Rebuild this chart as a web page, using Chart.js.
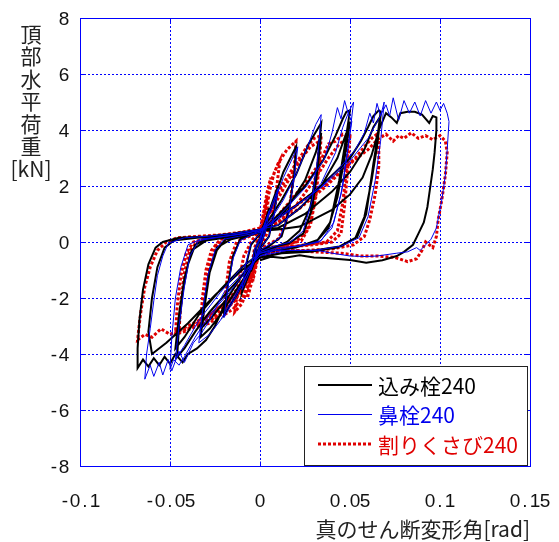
<!DOCTYPE html>
<html>
<head>
<meta charset="utf-8">
<script src="https://cdn.jsdelivr.net/npm/chart.js@4.4.1/dist/chart.umd.min.js"></script>
<style>
  html, body { margin: 0; padding: 0; background: #fff; }
  #wrap { width: 559px; height: 542px; }
</style>
</head>
<body>
<div id="wrap"><canvas id="loopChart" width="559" height="542"></canvas></div>
<script>
// 軸の目盛
const xTicks = [-0.1, -0.05, 0, 0.05, 0.1, 0.15];
const yTicks = [-8, -6, -4, -2, 0, 2, 4, 6, 8];
const yTitleLines = ["頂", "部", "水", "平", "荷", "重", "[kN]"];
const xTitle = "真のせん断変形角[rad]";

const seriesNames = ["込み栓240", "鼻栓240", "割りくさび240"];

// 込み栓240  [変形角, 荷重]
const komiPath = [
  [0,0],[0.0033,0.8],[0.002,0.3],[0,-0.1],[-0.0033,-0.7],[-0.002,-0.2],[0,0.1],
  [0.005,1.2],[0.003,0.4],[0,-0.15],[-0.005,-1.05],[-0.003,-0.3],[0,0.15],
  [0.004,0.9],[0.01,2.0],[0.008,1.1],[0.005,0.2],[0,-0.25],[-0.004,-0.8],[-0.01,-1.8],[-0.008,-0.9],[-0.005,-0.1],[0,0.3],
  [0.006,1.2],[0.013,2.5],[0.02,3.4],[0.019,2.4],[0.016,1.1],[0.012,0.2],[0.005,-0.15],[0,-0.3],
  [-0.006,-1.0],[-0.013,-1.9],[-0.02,-2.6],[-0.018,-1.6],[-0.015,-0.5],[-0.011,0.1],[-0.005,0.25],[0,0.35],
  [0.005,0.8],[0.012,1.5],[0.02,2.4],[0.027,3.5],[0.034,4.25],[0.032,2.8],[0.028,1.25],[0.022,0.4],[0.015,0],[0.008,-0.2],[0,-0.4],
  [-0.006,-1.0],[-0.013,-1.7],[-0.022,-2.6],[-0.028,-3.1],[-0.033,-3.4],[-0.031,-2.4],[-0.028,-1.1],[-0.024,-0.3],[-0.019,0.1],[-0.012,0.2],[-0.004,0.3],[0,0.4],
  [0.006,0.6],[0.015,1.2],[0.025,2.2],[0.031,3.2],[0.034,3.9],[0.032,2.6],[0.029,1.2],[0.024,0.3],[0.016,-0.05],[0.006,-0.2],[0,-0.35],
  [-0.008,-1.0],[-0.018,-2.0],[-0.027,-2.7],[-0.033,-3.1],[-0.031,-2.2],[-0.028,-1.0],[-0.024,-0.2],[-0.016,0.1],[-0.006,0.25],[0,0.35],
  [0.006,0.7],[0.015,1.3],[0.025,2.0],[0.035,2.9],[0.042,3.8],[0.046,4.4],[0.048,4.65],[0.05,4.7],[0.047,3.4],[0.044,2.2],[0.039,0.7],[0.032,0.07],[0.02,-0.2],[0.008,-0.3],[0,-0.45],
  [-0.007,-1.0],[-0.017,-1.7],[-0.028,-2.5],[-0.036,-3.2],[-0.042,-3.8],[-0.046,-4.1],[-0.045,-3.0],[-0.043,-1.8],[-0.04,-0.8],[-0.036,-0.1],[-0.03,0.1],[-0.02,0.2],[-0.008,0.3],[0,0.45],
  [0.01,0.6],[0.022,1.2],[0.034,2.0],[0.043,3.0],[0.048,3.9],[0.05,4.3],[0.047,3.0],[0.043,1.6],[0.038,0.5],[0.031,0],[0.018,-0.2],[0,-0.4],
  [-0.01,-0.9],[-0.022,-1.7],[-0.034,-2.6],[-0.042,-3.4],[-0.047,-3.8],[-0.045,-2.6],[-0.042,-1.3],[-0.038,-0.3],[-0.03,0.05],[-0.015,0.2],[0,0.4],
  [0.008,0.8],[0.02,1.3],[0.032,1.9],[0.042,2.5],[0.05,3.0],[0.056,3.6],[0.06,4.1],[0.063,4.5],[0.066,4.7],[0.067,4.65],[0.065,3.6],[0.063,2.8],[0.059,1.0],[0.054,0.18],[0.045,-0.15],[0.03,-0.3],[0.015,-0.35],[0,-0.55],
  [-0.008,-1.0],[-0.018,-2.0],[-0.025,-3.0],[-0.03,-3.5],[-0.035,-3.8],[-0.04,-4.0],[-0.043,-4.3],[-0.047,-4.0],[-0.05,-4.35],[-0.053,-4.1],[-0.056,-4.4],[-0.059,-4.15],[-0.062,-4.45],[-0.065,-4.2],[-0.068,-4.5],
  [-0.068,-3.8],[-0.067,-2.8],[-0.065,-1.7],[-0.062,-0.8],[-0.058,-0.2],[-0.054,0],[-0.045,0.15],[-0.03,0.2],[-0.015,0.3],[0,0.45],
  [0.01,0.5],[0.025,1.0],[0.04,1.8],[0.05,2.5],[0.058,3.3],[0.063,4.1],[0.067,4.5],[0.065,3.4],[0.062,2.2],[0.058,0.9],[0.053,0.15],[0.043,-0.2],[0.028,-0.35],[0.012,-0.4],[0,-0.55],
  [-0.01,-1.0],[-0.025,-1.9],[-0.04,-2.9],[-0.052,-3.6],[-0.06,-4.0],[-0.062,-3.2],[-0.06,-2.0],[-0.057,-0.9],[-0.053,-0.2],[-0.048,0.05],[-0.035,0.15],[-0.02,0.2],[0,0.4],
  [0.01,0.45],[0.022,0.55],[0.04,1.15],[0.05,1.7],[0.057,2.3],[0.062,3.1],[0.066,4.0],[0.07,4.6],[0.073,4.45],[0.076,4.25],[0.078,4.6],[0.082,4.65],[0.086,4.65],[0.09,4.55],[0.094,4.25],[0.096,4.5],[0.098,4.45],
  [0.098,4.0],[0.097,3.2],[0.096,2.6],[0.094,1.7],[0.093,1.25],[0.091,0.7],[0.088,0.3],[0.085,-0.1],[0.08,-0.35],[0.076,-0.5],[0.068,-0.65],[0.059,-0.74],[0.05,-0.64],[0.037,-0.57],[0.03,-0.55],[0.022,-0.47],[0.013,-0.57],[0.006,-0.53],[0,-0.65]
];

// 鼻栓240
const hanaPath = [
  [0,0],[0.003,0.7],[0.002,0.25],[0,-0.1],[-0.003,-0.65],[-0.002,-0.2],[0,0.1],
  [0.005,1.1],[0.003,0.35],[0,-0.15],[-0.005,-1.0],[-0.003,-0.25],[0,0.15],
  [0.004,0.9],[0.01,1.9],[0.008,1.0],[0.005,0.2],[0,-0.25],[-0.004,-0.8],[-0.01,-1.7],[-0.008,-0.8],[-0.005,-0.05],[0,0.3],
  [0.006,1.1],[0.013,2.3],[0.021,3.4],[0.019,2.3],[0.016,1.0],[0.011,0.15],[0.005,-0.1],[0,-0.3],
  [-0.006,-1.0],[-0.013,-1.9],[-0.02,-2.7],[-0.018,-1.7],[-0.015,-0.6],[-0.011,0.05],[-0.005,0.25],[0,0.35],
  [0.006,0.8],[0.013,1.5],[0.02,2.4],[0.027,3.5],[0.031,4.2],[0.034,4.55],[0.032,3.0],[0.029,1.5],[0.024,0.4],[0.017,0],[0.008,-0.15],[0,-0.35],
  [-0.006,-1.0],[-0.013,-1.8],[-0.022,-2.8],[-0.028,-3.3],[-0.034,-3.6],[-0.032,-2.5],[-0.029,-1.2],[-0.025,-0.3],[-0.02,0.1],[-0.012,0.2],[-0.004,0.3],[0,0.4],
  [0.007,0.7],[0.016,1.3],[0.026,2.0],[0.036,3.0],[0.04,3.9],[0.043,4.8],[0.045,4.4],[0.047,5.05],[0.049,4.6],[0.052,5.0],[0.049,3.4],[0.046,2.0],[0.041,0.7],[0.034,0.05],[0.022,-0.15],[0.01,-0.2],[0,-0.4],
  [-0.007,-1.0],[-0.017,-1.8],[-0.028,-2.6],[-0.036,-3.4],[-0.042,-4.1],[-0.045,-4.4],[-0.048,-4.2],[-0.05,-4.55],[-0.049,-3.4],[-0.047,-2.0],[-0.044,-0.9],[-0.04,-0.1],[-0.033,0.1],[-0.02,0.2],[-0.008,0.3],[0,0.45],
  [0.01,0.6],[0.022,1.2],[0.034,2.1],[0.042,3.2],[0.046,4.1],[0.049,4.6],[0.051,4.3],[0.048,3.0],[0.045,1.7],[0.04,0.5],[0.033,0],[0.02,-0.15],[0,-0.4],
  [-0.01,-0.9],[-0.022,-1.8],[-0.034,-2.8],[-0.042,-3.7],[-0.047,-4.2],[-0.045,-3.0],[-0.042,-1.6],[-0.039,-0.5],[-0.034,0.05],[-0.02,0.2],[0,0.4],
  [0.008,0.8],[0.02,1.3],[0.033,1.9],[0.045,2.7],[0.053,3.3],[0.058,3.9],[0.061,4.6],[0.063,4.25],[0.065,4.95],[0.067,4.5],[0.069,5.0],[0.067,3.6],[0.064,2.2],[0.06,0.9],[0.055,0.15],[0.045,-0.15],[0.03,-0.3],[0.015,-0.3],[0,-0.5],
  [-0.008,-1.0],[-0.02,-1.8],[-0.028,-2.8],[-0.033,-3.3],[-0.037,-3.6],[-0.042,-4.3],[-0.045,-3.9],[-0.049,-4.6],[-0.051,-4.2],[-0.054,-4.75],[-0.056,-4.3],[-0.059,-4.8],[-0.061,-4.4],[-0.064,-4.9],
  [-0.063,-4.0],[-0.061,-3.1],[-0.059,-2.1],[-0.057,-1.2],[-0.054,-0.5],[-0.051,-0.05],[-0.042,0.15],[-0.03,0.2],[-0.015,0.3],[0,0.45],
  [0.008,0.7],[0.02,1.3],[0.035,2.0],[0.05,2.9],[0.06,3.7],[0.066,4.4],[0.07,4.9],[0.072,4.5],[0.074,5.15],[0.077,4.35],[0.08,5.05],[0.083,4.6],[0.086,5.0],[0.089,4.5],[0.092,5.05],[0.095,4.6],[0.098,5.0],[0.1,4.7],[0.102,4.95],[0.104,4.6],[0.105,4.3],
  [0.104,3.3],[0.103,2.4],[0.101,1.5],[0.098,0.5],[0.095,0.1],[0.092,-0.1],[0.089,-0.3],[0.087,-0.2],[0.082,-0.35],[0.076,-0.4],[0.065,-0.5],[0.059,-0.52],[0.05,-0.5],[0.04,-0.4],[0.032,-0.3],[0.02,-0.3],[0.008,-0.3],[0,-0.5]
];

// 割りくさび240
const wariPath = [
  [0,0],[0.002,0.9],[0.004,1.6],[0.003,0.8],[0.001,0],[-0.002,-0.8],[-0.004,-1.4],[-0.003,-0.6],[-0.001,0.1],[0.001,0.7],
  [0.004,1.8],[0.006,2.3],[0.004,1.2],[0.002,0.3],[0,-0.2],[-0.004,-1.3],[-0.007,-2.0],[-0.005,-1.0],[-0.003,-0.2],[0,0.3],
  [0.004,1.5],[0.008,2.5],[0.011,2.9],[0.009,1.8],[0.006,0.7],[0.002,0],[-0.002,-0.6],[-0.006,-1.5],[-0.01,-2.2],[-0.014,-2.5],[-0.012,-1.5],[-0.009,-0.5],[-0.004,0.1],[0,0.4],
  [0.005,2.0],[0.01,2.8],[0.015,3.3],[0.02,3.6],[0.019,2.6],[0.017,1.5],[0.014,0.6],[0.01,0.1],[0.004,-0.1],[0,-0.3],
  [-0.005,-1.3],[-0.01,-2.0],[-0.015,-2.4],[-0.02,-2.6],[-0.019,-1.7],[-0.017,-0.7],[-0.013,0],[-0.006,0.2],[0,0.4],
  [0.006,1.2],[0.012,2.0],[0.02,2.8],[0.026,3.4],[0.03,3.7],[0.034,3.8],[0.033,2.8],[0.031,1.6],[0.028,0.6],[0.023,0.05],[0.012,-0.15],[0.003,-0.2],[0,-0.4],
  [-0.006,-1.3],[-0.014,-2.1],[-0.022,-2.6],[-0.028,-2.9],[-0.033,-3.0],[-0.032,-2.0],[-0.03,-1.0],[-0.027,-0.3],[-0.022,0.1],[-0.012,0.2],[-0.004,0.3],[0,0.45],
  [0.006,1.1],[0.014,2.0],[0.022,2.9],[0.028,3.4],[0.033,3.6],[0.032,2.6],[0.03,1.4],[0.026,0.4],[0.02,0],[0.01,-0.15],[0,-0.35],
  [-0.007,-1.4],[-0.016,-2.2],[-0.025,-2.7],[-0.032,-2.9],[-0.031,-1.9],[-0.028,-0.8],[-0.024,-0.1],[-0.015,0.2],[0,0.4],
  [0.008,0.8],[0.016,1.4],[0.025,2.1],[0.033,2.8],[0.038,3.5],[0.042,3.6],[0.046,3.85],[0.05,3.8],[0.049,2.8],[0.047,1.3],[0.045,0.3],[0.04,0],[0.03,-0.1],[0.02,-0.15],[0.008,-0.2],[0,-0.4],
  [-0.006,-1.2],[-0.015,-2.0],[-0.025,-2.6],[-0.035,-3.0],[-0.042,-3.2],[-0.047,-3.3],[-0.046,-2.3],[-0.044,-1.2],[-0.041,-0.4],[-0.037,0],[-0.028,0.15],[-0.015,0.25],[-0.005,0.3],[0,0.45],
  [0.01,0.7],[0.02,1.3],[0.03,2.2],[0.038,3.0],[0.044,3.5],[0.049,3.7],[0.048,2.6],[0.046,1.4],[0.043,0.4],[0.037,0],[0.025,-0.1],[0,-0.35],
  [-0.008,-1.3],[-0.018,-2.1],[-0.03,-2.7],[-0.04,-3.1],[-0.045,-3.2],[-0.044,-2.2],[-0.042,-1.1],[-0.039,-0.3],[-0.034,0.05],[-0.02,0.2],[0,0.4],
  [0.01,0.7],[0.022,1.2],[0.035,1.9],[0.045,2.5],[0.053,3.0],[0.058,3.4],[0.062,3.7],[0.065,3.85],[0.066,3.6],[0.066,2.7],[0.064,1.7],[0.061,0.8],[0.058,0.2],[0.052,-0.1],[0.04,-0.25],[0.025,-0.3],[0.01,-0.3],[0,-0.5],
  [-0.007,-1.3],[-0.016,-2.0],[-0.028,-2.6],[-0.04,-3.0],[-0.05,-3.3],[-0.055,-3.1],[-0.06,-3.4],[-0.064,-3.3],[-0.068,-3.5],
  [-0.067,-2.9],[-0.066,-2.4],[-0.064,-1.6],[-0.061,-0.9],[-0.057,-0.3],[-0.052,0],[-0.046,0.15],[-0.035,0.2],[-0.023,0.25],[-0.01,0.35],[0,0.5],
  [0.008,0.8],[0.02,1.3],[0.035,2.0],[0.05,2.8],[0.06,3.3],[0.066,3.7],[0.07,3.85],[0.074,3.6],[0.077,3.8],[0.08,3.7],[0.084,3.9],[0.088,3.7],[0.092,3.8],[0.096,3.65],[0.1,3.8],[0.103,3.6],
  [0.104,3.2],[0.103,2.4],[0.101,1.5],[0.099,0.8],[0.098,0.2],[0.096,-0.2],[0.094,-0.1],[0.092,0],[0.09,-0.3],[0.087,-0.6],[0.082,-0.7],[0.075,-0.55],[0.065,-0.5],[0.056,-0.5],[0.045,-0.4],[0.03,-0.35],[0.015,-0.3],[0.005,-0.4],[0,-0.6]
];

const toPoints = arr => arr.map(p => ({ x: p[0], y: p[1] }));
const fmtTick = v => String(Math.round(v * 100) / 100);

const blueCol = "#0000ee";
const redCol = "#e00000";
const gridCol = "#0000ff";

const legendItems = [
  { text: seriesNames[0], color: "#000000", width: 2, dash: [] },
  { text: seriesNames[1], color: blueCol, width: 1, dash: [] },
  { text: seriesNames[2], color: redCol, width: 3, dash: [3, 2] }
];

// 半角等幅風に1文字ずつ置く
function drawSpaced(ctx, text, left, y, cell) {
  for (let i = 0; i < text.length; i++) {
    ctx.fillText(text[i], left + cell * (i + 0.5), y);
  }
}

// 点線グリッド
const gridPlugin = {
  id: "dotGrid",
  beforeDatasetsDraw(chart) {
    const ctx = chart.ctx;
    const a = chart.chartArea;
    const xs = chart.scales.x, ys = chart.scales.y;
    ctx.save();
    ctx.strokeStyle = gridCol;
    ctx.lineWidth = 1;
    ctx.setLineDash([2, 2]);
    ctx.beginPath();
    xTicks.forEach(v => {
      const px = Math.round(xs.getPixelForValue(v)) + 0.5;
      ctx.moveTo(px, a.top); ctx.lineTo(px, a.bottom);
    });
    yTicks.forEach(v => {
      const py = Math.round(ys.getPixelForValue(v)) + 0.5;
      ctx.moveTo(a.left, py); ctx.lineTo(a.right, py);
    });
    ctx.stroke();
    ctx.restore();
  }
};

// 枠・内向き目盛・目盛ラベル・縦書きラベル・凡例
const decorPlugin = {
  id: "decor",
  afterDraw(chart) {
    const ctx = chart.ctx;
    const a = chart.chartArea;
    const xs = chart.scales.x, ys = chart.scales.y;
    ctx.save();
    ctx.strokeStyle = gridCol;
    ctx.lineWidth = 1;
    ctx.setLineDash([]);
    const l = Math.round(a.left) + 0.5, t = Math.round(a.top) + 0.5;
    const r = Math.round(a.right) + 0.5, b = Math.round(a.bottom) + 0.5;
    ctx.strokeRect(l, t, r - l, b - t);
    ctx.beginPath();
    xTicks.forEach(v => {
      const px = Math.round(xs.getPixelForValue(v)) + 0.5;
      ctx.moveTo(px, b); ctx.lineTo(px, b - 5);
      ctx.moveTo(px, t); ctx.lineTo(px, t + 5);
    });
    yTicks.forEach(v => {
      const py = Math.round(ys.getPixelForValue(v)) + 0.5;
      ctx.moveTo(l, py); ctx.lineTo(l + 5, py);
      ctx.moveTo(r, py); ctx.lineTo(r - 5, py);
    });
    ctx.stroke();

    // 目盛ラベル
    ctx.fillStyle = "#111";
    ctx.textAlign = "center";
    ctx.textBaseline = "middle";
    ctx.font = "19px 'Liberation Sans', Arial";
    const cell = 10;
    xTicks.forEach(v => {
      const s = fmtTick(v);
      drawSpaced(ctx, s, xs.getPixelForValue(v) - s.length * cell / 2, a.bottom + 36, cell);
    });
    yTicks.forEach(v => {
      const s = fmtTick(v);
      drawSpaced(ctx, s, a.left - 11 - s.length * cell, ys.getPixelForValue(v) + 2, cell);
    });

    // 縦軸タイトル
    ctx.fillStyle = "#222";
    ctx.font = "21px 'Noto Sans CJK JP'";
    yTitleLines.forEach((txt, i) => {
      ctx.fillText(txt, 31, 34 + i * 22.5);
    });

    // 凡例
    const lx = Math.round(a.right) - 226, ly = Math.round(a.bottom) - 100, lw = 223, lh = 99;
    ctx.fillStyle = "#fff";
    ctx.fillRect(lx, ly, lw, lh);
    ctx.strokeStyle = "#222";
    ctx.lineWidth = 1;
    ctx.strokeRect(lx + 0.5, ly + 0.5, lw, lh);
    ctx.textAlign = "left";
    ctx.font = "21px 'Noto Sans CJK JP'";
    legendItems.forEach((it, i) => {
      const yy = ly + 19 + i * 29.5;
      ctx.beginPath();
      ctx.strokeStyle = it.color;
      ctx.lineWidth = it.width;
      ctx.setLineDash(it.dash);
      ctx.moveTo(lx + 14, yy);
      ctx.lineTo(lx + 68, yy);
      ctx.stroke();
      ctx.setLineDash([]);
      ctx.fillStyle = it.color;
      ctx.fillText(it.text, lx + 74, yy + 1);
    });
    ctx.restore();
  }
};

new Chart(document.getElementById("loopChart").getContext("2d"), {
  type: "scatter",
  data: {
    datasets: [
      {
        label: seriesNames[1],
        data: toPoints(hanaPath),
        borderColor: blueCol,
        borderWidth: 1,
        showLine: true,
        pointRadius: 0,
        tension: 0
      },
      {
        label: seriesNames[0],
        data: toPoints(komiPath),
        borderColor: "#000000",
        borderWidth: 2,
        showLine: true,
        pointRadius: 0,
        tension: 0
      },
      {
        label: seriesNames[2],
        data: toPoints(wariPath),
        borderColor: redCol,
        borderWidth: 3,
        borderDash: [3, 2],
        showLine: true,
        pointRadius: 0,
        tension: 0
      }
    ]
  },
  options: {
    responsive: false,
    animation: false,
    devicePixelRatio: 1,
    layout: { padding: { left: 0, top: 18, right: 29, bottom: 0 } },
    plugins: {
      legend: { display: false },
      tooltip: { enabled: false }
    },
    scales: {
      x: {
        type: "linear",
        min: -0.1,
        max: 0.15,
        afterBuildTicks: s => { s.ticks = xTicks.map(v => ({ value: v })); },
        afterFit: s => { s.height = 76; },
        ticks: { display: false },
        grid: { display: false },
        border: { display: false },
        title: {
          display: true,
          text: xTitle,
          align: "end",
          color: "#222",
          font: { family: "'Noto Sans CJK JP'", size: 21 },
          padding: { top: 0, bottom: 0 }
        }
      },
      y: {
        type: "linear",
        min: -8,
        max: 8,
        afterBuildTicks: s => { s.ticks = yTicks.map(v => ({ value: v })); },
        afterFit: s => { s.width = 80; },
        ticks: { display: false },
        grid: { display: false },
        border: { display: false }
      }
    }
  },
  plugins: [gridPlugin, decorPlugin]
});
</script>
</body>
</html>
